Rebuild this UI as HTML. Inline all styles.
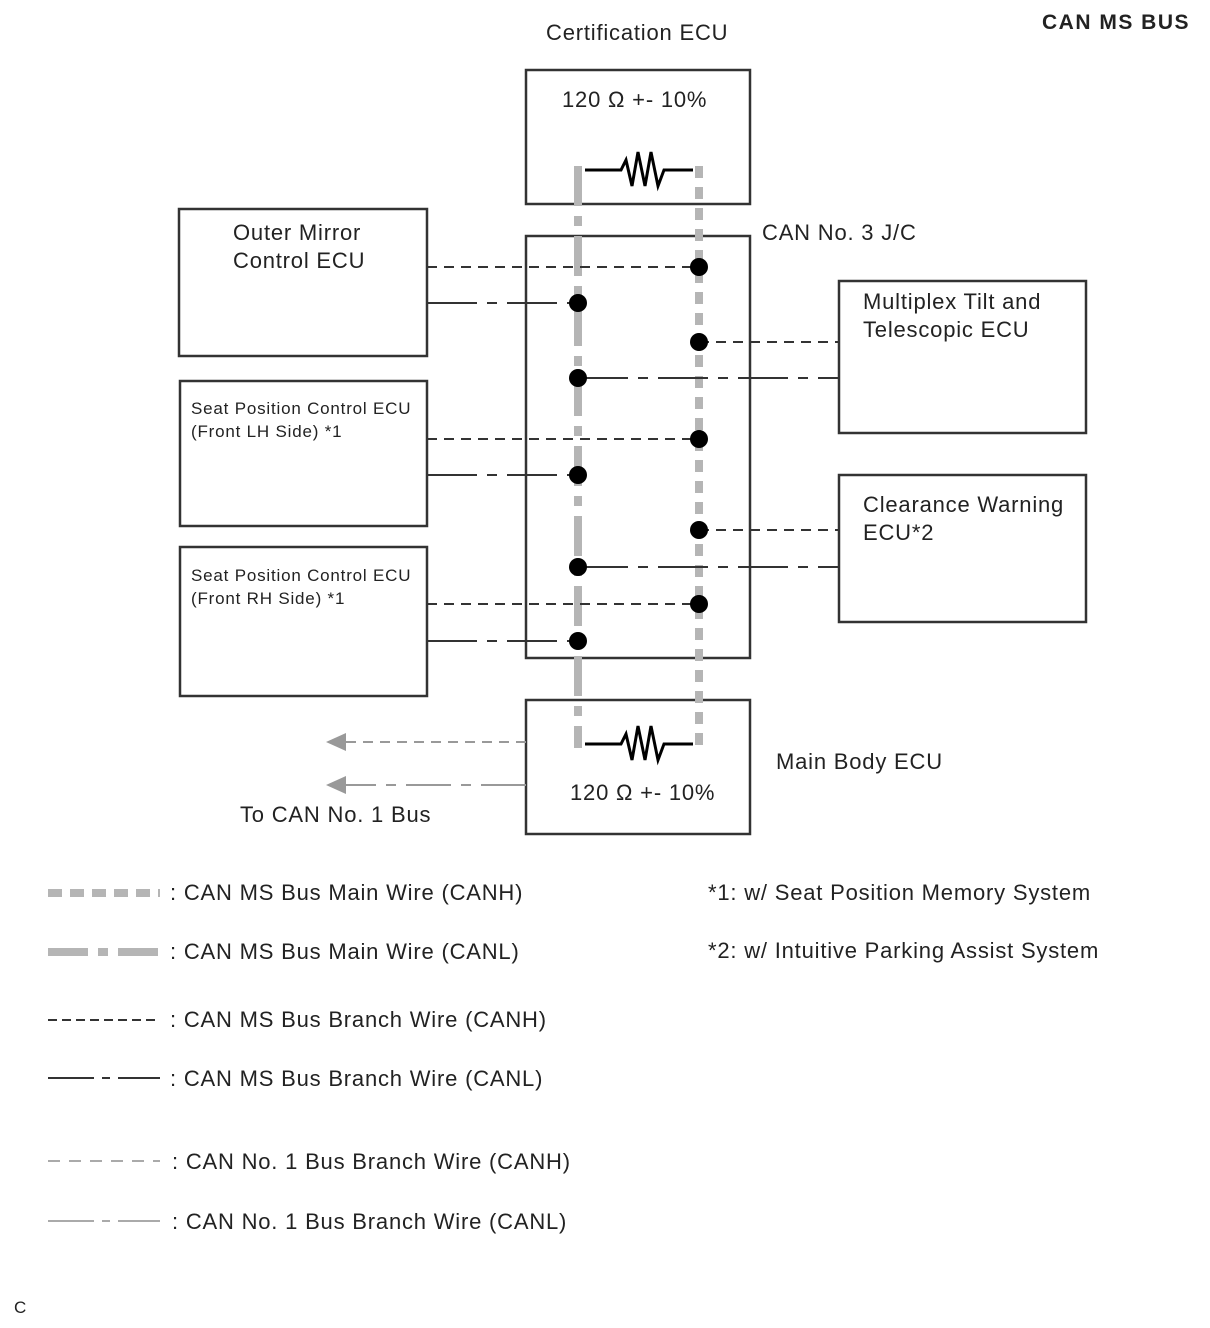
<!DOCTYPE html>
<html><head><meta charset="utf-8"><style>
html,body{margin:0;padding:0;background:#fff;}
svg{display:block;font-family:"Liberation Sans",sans-serif;}
</style></head><body>
<svg width="1210" height="1328" viewBox="0 0 1210 1328" xmlns="http://www.w3.org/2000/svg">
<g fill="#222" font-size="22" letter-spacing="0.8">
<text x="1042" y="29" font-weight="bold" font-size="21" letter-spacing="1.5">CAN MS BUS</text>
<text x="546" y="40">Certification ECU</text>
<text x="562" y="107">120 Ω +- 10%</text>
<text x="762" y="240">CAN No. 3 J/C</text>
<text x="233" y="240">Outer Mirror</text>
<text x="233" y="268">Control ECU</text>
<text x="191" y="414" font-size="17">Seat Position Control ECU</text>
<text x="191" y="437" font-size="17">(Front LH Side) *1</text>
<text x="191" y="581" font-size="17">Seat Position Control ECU</text>
<text x="191" y="604" font-size="17">(Front RH Side) *1</text>
<text x="863" y="309">Multiplex Tilt and</text>
<text x="863" y="337">Telescopic ECU</text>
<text x="863" y="512">Clearance Warning</text>
<text x="863" y="540">ECU*2</text>
<text x="776" y="769">Main Body ECU</text>
<text x="570" y="800">120 Ω +- 10%</text>
<text x="240" y="822">To CAN No. 1 Bus</text>
<text x="170" y="900">: CAN MS Bus Main Wire (CANH)</text>
<text x="170" y="959">: CAN MS Bus Main Wire (CANL)</text>
<text x="170" y="1027">: CAN MS Bus Branch Wire (CANH)</text>
<text x="170" y="1086">: CAN MS Bus Branch Wire (CANL)</text>
<text x="172" y="1169">: CAN No. 1 Bus Branch Wire (CANH)</text>
<text x="172" y="1229">: CAN No. 1 Bus Branch Wire (CANL)</text>
<text x="708" y="900">*1: w/ Seat Position Memory System</text>
<text x="708" y="958">*2: w/ Intuitive Parking Assist System</text>
<text x="14" y="1313" font-size="17" letter-spacing="0">C</text>
</g>
<g fill="none" stroke="#333" stroke-width="2.5">
<rect x="526" y="70" width="224" height="134"/>
<rect x="526" y="236" width="224" height="422"/>
<rect x="526" y="700" width="224" height="134"/>
<rect x="179" y="209" width="248" height="147"/>
<rect x="180" y="381" width="247" height="145"/>
<rect x="180" y="547" width="247" height="149"/>
<rect x="839" y="281" width="247" height="152"/>
<rect x="839" y="475" width="247" height="147"/>
</g>
<g fill="none" stroke="#b5b5b5" stroke-width="8">
<line x1="578" y1="166" x2="578" y2="748" stroke-dasharray="40,10,10,10"/>
<line x1="699" y1="166" x2="699" y2="748" stroke-dasharray="12,9"/>
</g>
<g fill="none" stroke="#000" stroke-width="3">
<polyline points="585,170 621,170 626,160 632,186 638,152 645,186 651,152 658,186 664,170 693,170"/>
<polyline points="585,744 621,744 626,734 632,760 638,726 645,760 651,726 658,760 664,744 693,744"/>
</g>
<g fill="none" stroke="#333" stroke-width="2">
<g stroke-dasharray="10,7">
<line x1="427" y1="267" x2="699" y2="267"/>
<line x1="699" y1="342" x2="839" y2="342"/>
<line x1="427" y1="439" x2="699" y2="439"/>
<line x1="699" y1="530" x2="839" y2="530"/>
<line x1="427" y1="604" x2="699" y2="604"/>
</g>
<g stroke-dasharray="50,10,10,10">
<line x1="427" y1="303" x2="578" y2="303"/>
<line x1="578" y1="378" x2="839" y2="378"/>
<line x1="427" y1="475" x2="578" y2="475"/>
<line x1="578" y1="567" x2="839" y2="567"/>
<line x1="427" y1="641" x2="578" y2="641"/>
</g>
</g>
<g fill="#000">
<circle cx="699" cy="267" r="9"/><circle cx="699" cy="342" r="9"/><circle cx="699" cy="439" r="9"/><circle cx="699" cy="530" r="9"/><circle cx="699" cy="604" r="9"/>
<circle cx="578" cy="303" r="9"/><circle cx="578" cy="378" r="9"/><circle cx="578" cy="475" r="9"/><circle cx="578" cy="567" r="9"/><circle cx="578" cy="641" r="9"/>
</g>
<g stroke="#999" stroke-width="2" fill="none">
<line x1="526" y1="742" x2="345" y2="742" stroke-dasharray="10,7"/>
<line x1="526" y1="785" x2="345" y2="785" stroke-dasharray="45,10,10,10"/>
</g>
<g fill="#999">
<polygon points="326,742 346,733 346,751"/>
<polygon points="326,785 346,776 346,794"/>
</g>
<g fill="none">
<line x1="48" y1="893" x2="160" y2="893" stroke="#b5b5b5" stroke-width="8" stroke-dasharray="14,8"/>
<line x1="48" y1="952" x2="160" y2="952" stroke="#b5b5b5" stroke-width="8" stroke-dasharray="40,10,10,10"/>
<line x1="48" y1="1020" x2="160" y2="1020" stroke="#333" stroke-width="2" stroke-dasharray="9,5"/>
<line x1="48" y1="1078" x2="160" y2="1078" stroke="#333" stroke-width="2" stroke-dasharray="46,8,8,8"/>
<line x1="48" y1="1161" x2="160" y2="1161" stroke="#aaa" stroke-width="2" stroke-dasharray="12,9"/>
<line x1="48" y1="1221" x2="160" y2="1221" stroke="#aaa" stroke-width="2" stroke-dasharray="46,8,8,8"/>
</g>
</svg>
</body></html>
